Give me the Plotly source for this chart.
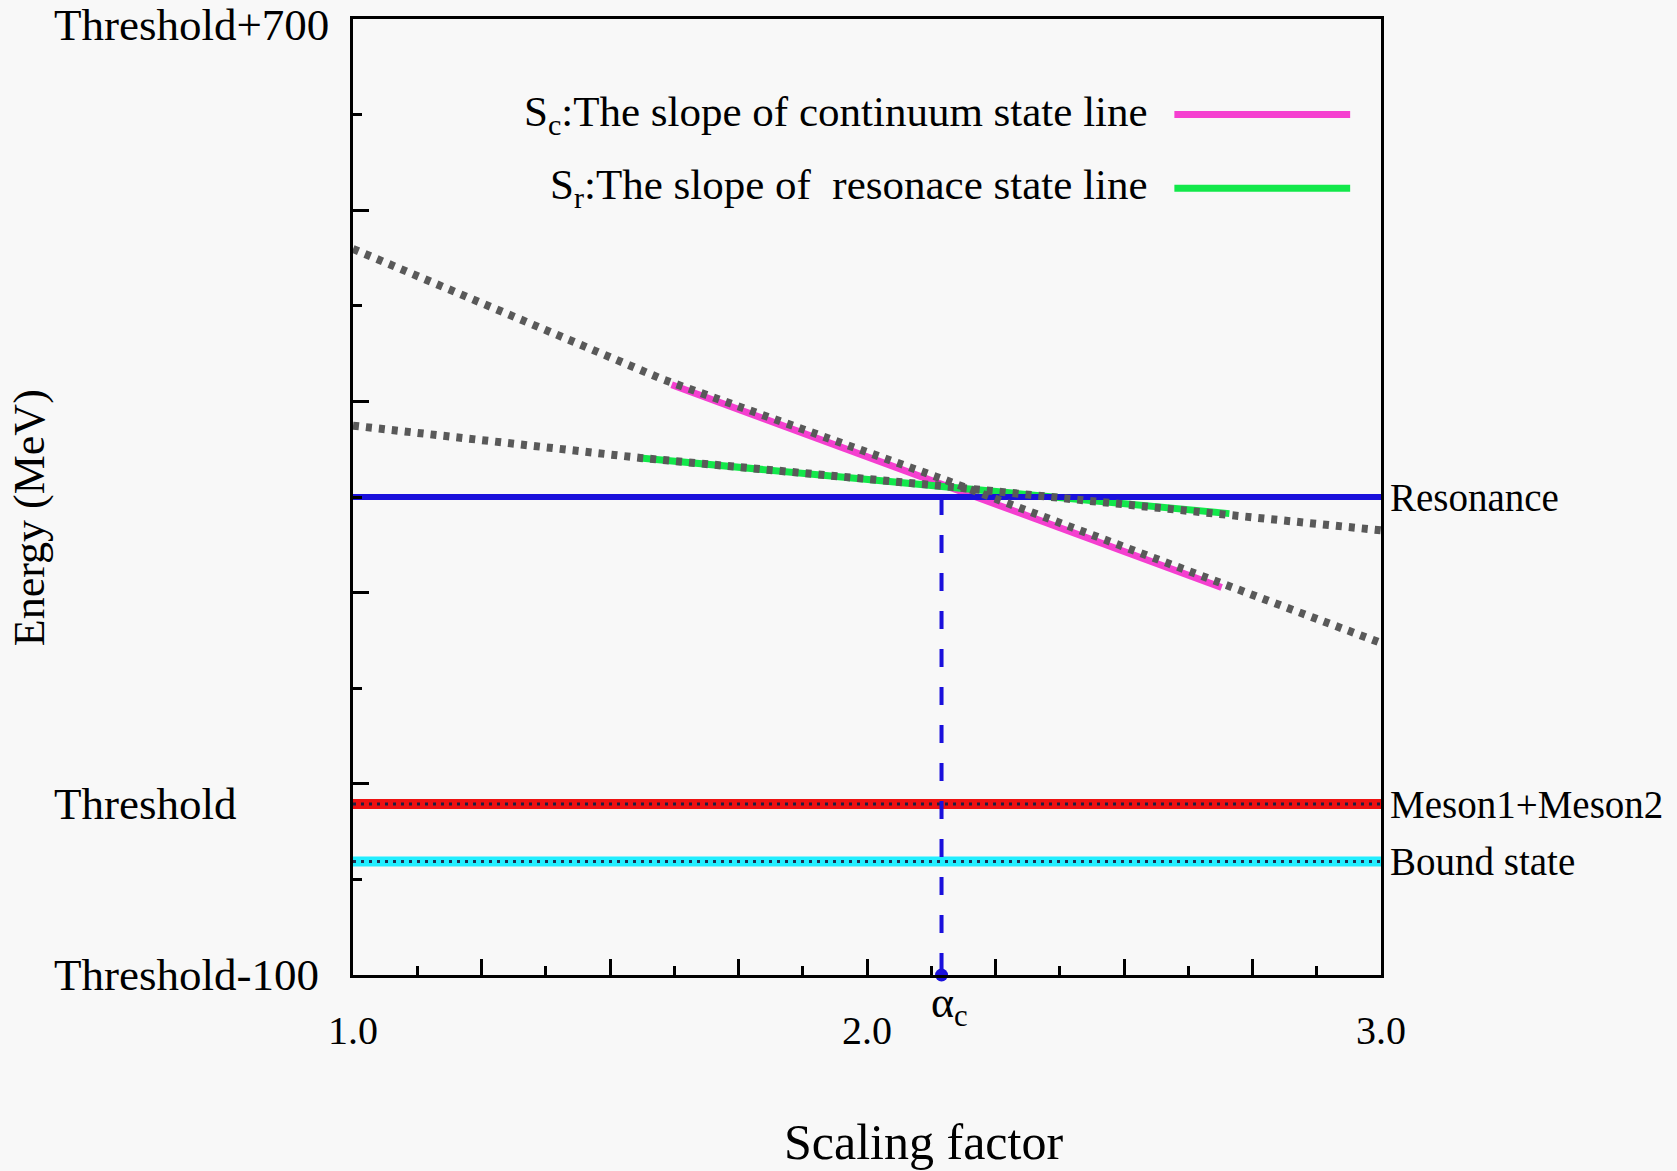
import plotly.graph_objects as go

# schematic values (energy relative to threshold, MeV)
x_range = [1.0, 3.0]
y_range = [-100, 700]

resonance = 300
threshold = 43
bound_state = -5
alpha_c = 2.145

# grey dotted guide curves
cont_x = [1.0, 1.604, 2.145, 3.0]
cont_y = [507.6, 398.2, 315.4, 177.9]
res_x = [1.0, 1.559, 2.145, 3.0]
res_y = [359.7, 332.7, 309.3, 272.1]

# coloured slope segments
sc_x = [1.62, 2.69]
sc_y = [394.0, 224.3]
sr_x = [1.559, 2.705]
sr_y = [332.7, 286.1]

ytick_vals = [-100, threshold, 700]
ytick_text = ["Threshold-100", "Threshold", "Threshold+700"]
xtick_vals = [1.0, 2.0, 3.0]
xtick_text = ["1.0", "2.0", "3.0"]

right_labels = ["Resonance", "Meson1+Meson2", "Bound state"]
right_vals = [resonance, threshold, bound_state]

legend_text = ["S<sub>c</sub>:The slope of continuum state line",
               "S<sub>r</sub>:The slope of&nbsp; resonace state line"]
legend_col = ["#f53fd0", "#12e84a"]

FONT = "Liberation Serif"
GREY = "#595959"
BLUE = "#1a10dc"
BG = "#f8f8f8"

fig = go.Figure()

# slope segments under the grey dots
fig.add_trace(go.Scatter(x=sc_x, y=sc_y, mode="lines",
                         line=dict(color=legend_col[0], width=7)))
fig.add_trace(go.Scatter(x=sr_x, y=sr_y, mode="lines",
                         line=dict(color=legend_col[1], width=7)))

# horizontal levels
fig.add_trace(go.Scatter(x=x_range, y=[threshold, threshold], mode="lines",
                         line=dict(color="#ee1111", width=10)))
fig.add_trace(go.Scatter(x=x_range, y=[threshold, threshold], mode="lines",
                         line=dict(color="#202040", width=3, dash="3px,5px")))
fig.add_trace(go.Scatter(x=x_range, y=[bound_state, bound_state], mode="lines",
                         line=dict(color="#22eeff", width=10)))
fig.add_trace(go.Scatter(x=x_range, y=[bound_state, bound_state], mode="lines",
                         line=dict(color="#203050", width=3, dash="3px,5px")))
fig.add_trace(go.Scatter(x=x_range, y=[resonance, resonance], mode="lines",
                         line=dict(color=BLUE, width=6)))

# grey dotted curves
fig.add_trace(go.Scatter(x=cont_x, y=cont_y, mode="lines",
                         line=dict(color=GREY, width=8, dash="6px,7px")))
fig.add_trace(go.Scatter(x=res_x, y=res_y, mode="lines",
                         line=dict(color=GREY, width=8, dash="6px,7px")))

# alpha_c drop line and dot
fig.add_trace(go.Scatter(x=[alpha_c, alpha_c], y=[resonance, y_range[0]], mode="lines",
                         line=dict(color=BLUE, width=4, dash="18px,20px")))
fig.add_trace(go.Scatter(x=[alpha_c], y=[y_range[0]], mode="markers",
                         marker=dict(color=BLUE, size=13), cliponaxis=False))

ann = []
for v, t in zip(ytick_vals, ytick_text):
    ann.append(dict(x=-0.293, xref="paper", y=v, yref="y", text=t, showarrow=False,
                    xanchor="left", yanchor="middle", font=dict(size=45),
                    yshift=-6 if v == y_range[1] else 0))
for v, t in zip(xtick_vals, xtick_text):
    ann.append(dict(x=v, xref="x", y=-0.058, yref="paper", text=t, showarrow=False,
                    xanchor="center", yanchor="middle", font=dict(size=40)))
for v, t in zip(right_vals, right_labels):
    ann.append(dict(x=1.007, xref="paper", y=v, yref="y", text=t, showarrow=False,
                    xanchor="left", yanchor="middle", font=dict(size=39)))
ann.append(dict(x=alpha_c, xref="x", y=-0.032, yref="paper", text="α<sub>c</sub>",
                showarrow=False, xanchor="center", xshift=8, yanchor="middle",
                font=dict(size=44)))
ann.append(dict(x=-0.315, xref="paper", y=0.478, yref="paper", text="Energy (MeV)",
                textangle=-90, showarrow=False, xanchor="center", yanchor="middle",
                font=dict(size=44)))
ann.append(dict(x=0.555, xref="paper", y=-0.175, yref="paper", text="Scaling factor",
                showarrow=False, xanchor="center", yanchor="middle",
                font=dict(size=50)))

shapes = []
for i, (t, c) in enumerate(zip(legend_text, legend_col)):
    yy = 0.900 - i * 0.077
    ann.append(dict(x=0.775, xref="paper", y=yy, yref="paper", text=t, showarrow=False,
                    xanchor="right", yanchor="middle", font=dict(size=43)))
    shapes.append(dict(type="line", xref="paper", yref="paper", x0=0.799, x1=0.970,
                       y0=yy, y1=yy, line=dict(color=c, width=7)))

axis_common = dict(showgrid=False, zeroline=False, showline=True, linecolor="black",
                   linewidth=3, mirror=True, ticks="inside", tickcolor="black",
                   tickwidth=3, ticklen=16, showticklabels=False)

fig.update_layout(
    width=1677, height=1171,
    margin=dict(l=353, r=296, t=19, b=196),
    paper_bgcolor=BG, plot_bgcolor=BG,
    showlegend=False,
    font=dict(family=FONT, color="black"),
    annotations=ann, shapes=shapes,
    xaxis=dict(range=x_range, tick0=1.0, dtick=0.25,
               minor=dict(tick0=1.0, dtick=0.125, ticks="inside", ticklen=9,
                          tickwidth=3, tickcolor="black"),
               **axis_common),
    yaxis=dict(range=y_range, tick0=-100, dtick=160,
               minor=dict(tick0=-100, dtick=80, ticks="inside", ticklen=9,
                          tickwidth=3, tickcolor="black"),
               **axis_common),
)

# drop the default page margin so the figure sits at the window corner
fig.write_html("out.html", config={"displayModeBar": False},
               post_script="document.body.style.margin='0';"
                           "document.body.style.background='" + BG + "';")
